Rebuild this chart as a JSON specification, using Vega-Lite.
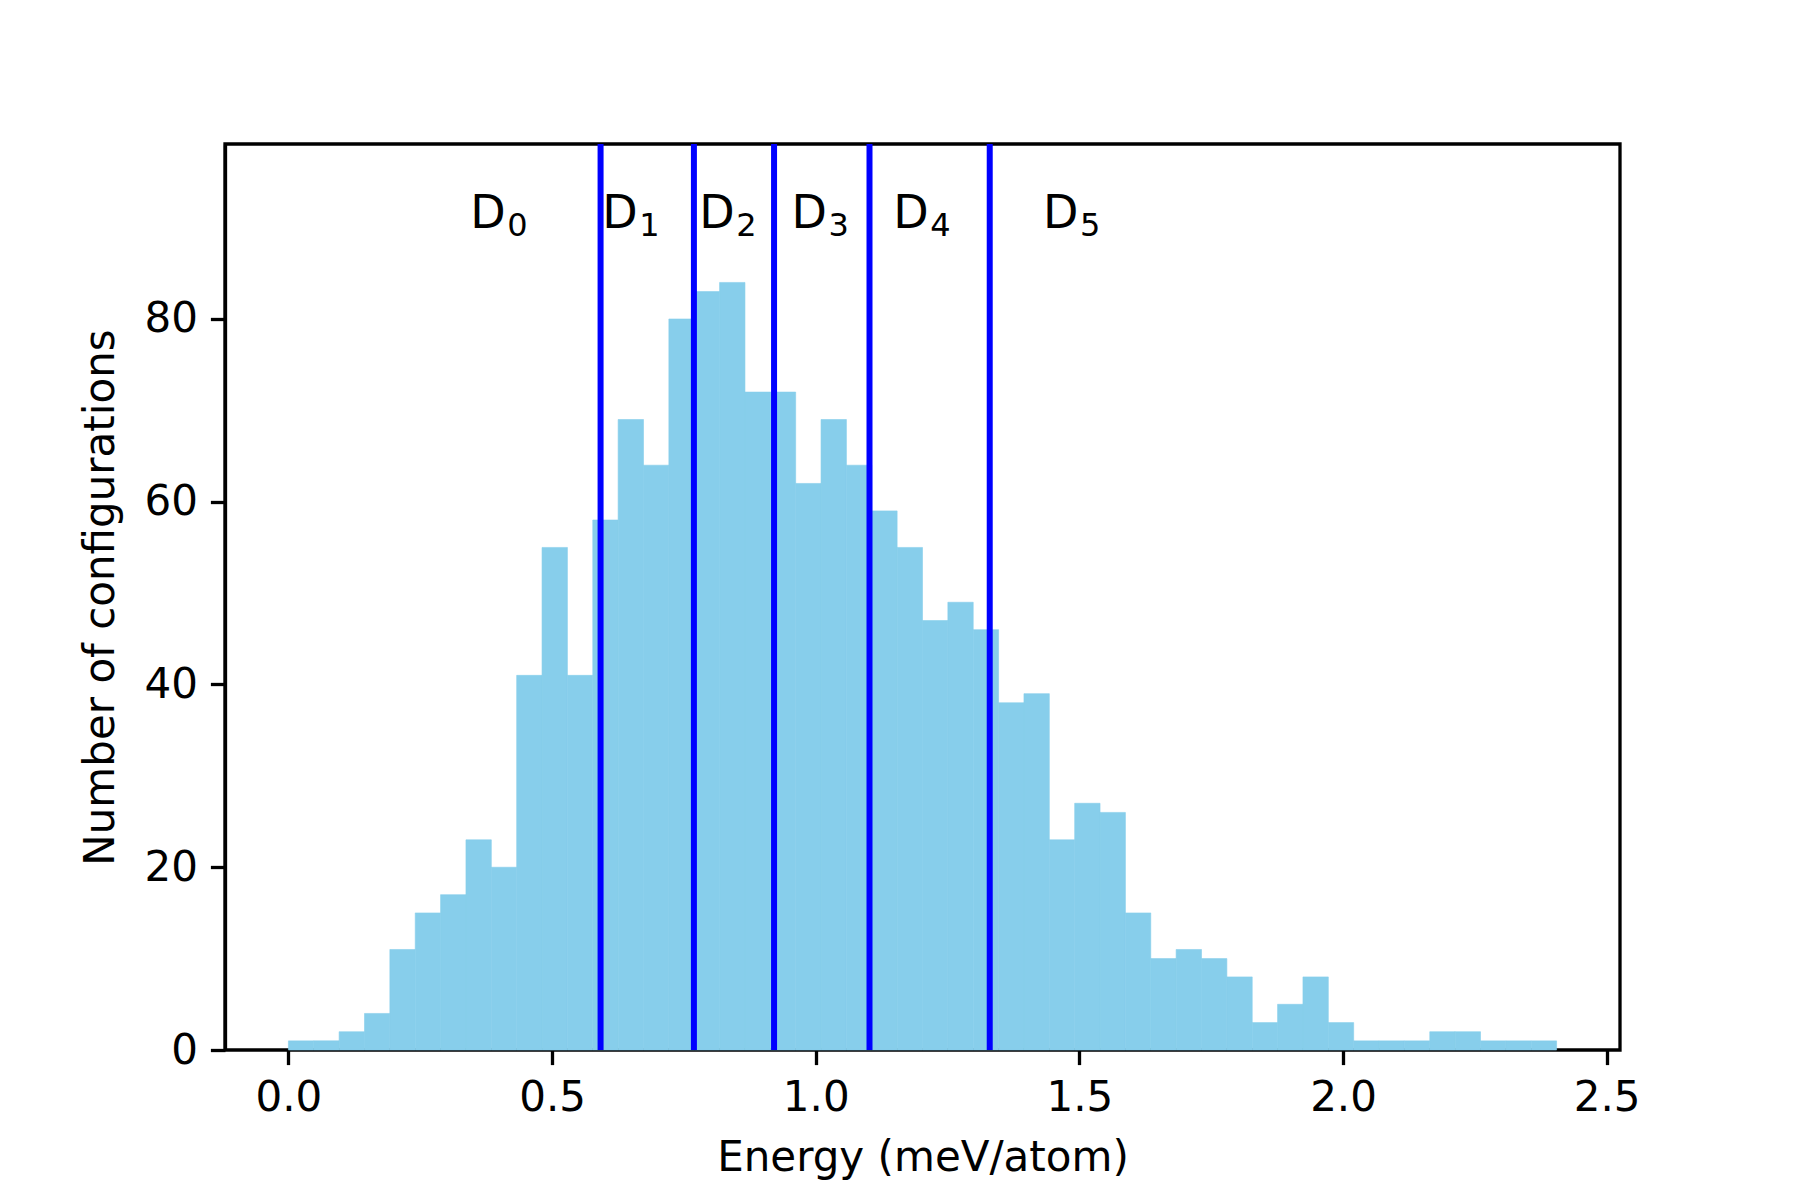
{
  "$schema": "https://vega.github.io/schema/vega-lite/v6.json",
  "width": 1395,
  "height": 906,
  "autosize": {"type": "none"},
  "padding": {"left": 225, "top": 144, "right": 180, "bottom": 150},
  "background": "white",
  "config": {
    "font": "DejaVu Sans",
    "view": {"stroke": "black", "strokeWidth": 3.3},
    "axis": {
      "grid": false,
      "domainColor": "black",
      "domainWidth": 3.3,
      "tickColor": "black",
      "tickWidth": 3.3,
      "tickSize": 14.6,
      "labelFont": "DejaVu Sans",
      "labelFontSize": 42,
      "labelColor": "black",
      "labelPadding": 13,
      "labelFlush": false,
      "labelOverlap": false,
      "titleFont": "DejaVu Sans",
      "titleFontSize": 42,
      "titleFontWeight": "normal",
      "titleColor": "black",
      "zindex": 1
    }
  },
  "datasets": {
    "bins": [
      {"lo": 0, "hi": 0.0481, "count": 1},
      {"lo": 0.0481, "hi": 0.0962, "count": 1},
      {"lo": 0.0962, "hi": 0.1443, "count": 2},
      {"lo": 0.1443, "hi": 0.1924, "count": 4},
      {"lo": 0.1924, "hi": 0.2405, "count": 11},
      {"lo": 0.2405, "hi": 0.2886, "count": 15},
      {"lo": 0.2886, "hi": 0.3367, "count": 17},
      {"lo": 0.3367, "hi": 0.3848, "count": 23},
      {"lo": 0.3848, "hi": 0.4329, "count": 20},
      {"lo": 0.4329, "hi": 0.481, "count": 41},
      {"lo": 0.481, "hi": 0.5291, "count": 55},
      {"lo": 0.5291, "hi": 0.5772, "count": 41},
      {"lo": 0.5772, "hi": 0.6253, "count": 58},
      {"lo": 0.6253, "hi": 0.6734, "count": 69},
      {"lo": 0.6734, "hi": 0.7215, "count": 64},
      {"lo": 0.7215, "hi": 0.7696, "count": 80},
      {"lo": 0.7696, "hi": 0.8177, "count": 83},
      {"lo": 0.8177, "hi": 0.8658, "count": 84},
      {"lo": 0.8658, "hi": 0.9139, "count": 72},
      {"lo": 0.9139, "hi": 0.962, "count": 72},
      {"lo": 0.962, "hi": 1.0101, "count": 62},
      {"lo": 1.0101, "hi": 1.0582, "count": 69},
      {"lo": 1.0582, "hi": 1.1063, "count": 64},
      {"lo": 1.1063, "hi": 1.1544, "count": 59},
      {"lo": 1.1544, "hi": 1.2025, "count": 55},
      {"lo": 1.2025, "hi": 1.2506, "count": 47},
      {"lo": 1.2506, "hi": 1.2987, "count": 49},
      {"lo": 1.2987, "hi": 1.3468, "count": 46},
      {"lo": 1.3468, "hi": 1.3949, "count": 38},
      {"lo": 1.3949, "hi": 1.443, "count": 39},
      {"lo": 1.443, "hi": 1.4911, "count": 23},
      {"lo": 1.4911, "hi": 1.5392, "count": 27},
      {"lo": 1.5392, "hi": 1.5873, "count": 26},
      {"lo": 1.5873, "hi": 1.6354, "count": 15},
      {"lo": 1.6354, "hi": 1.6835, "count": 10},
      {"lo": 1.6835, "hi": 1.7316, "count": 11},
      {"lo": 1.7316, "hi": 1.7797, "count": 10},
      {"lo": 1.7797, "hi": 1.8278, "count": 8},
      {"lo": 1.8278, "hi": 1.8759, "count": 3},
      {"lo": 1.8759, "hi": 1.924, "count": 5},
      {"lo": 1.924, "hi": 1.9721, "count": 8},
      {"lo": 1.9721, "hi": 2.0202, "count": 3},
      {"lo": 2.0202, "hi": 2.0683, "count": 1},
      {"lo": 2.0683, "hi": 2.1164, "count": 1},
      {"lo": 2.1164, "hi": 2.1645, "count": 1},
      {"lo": 2.1645, "hi": 2.2126, "count": 2},
      {"lo": 2.2126, "hi": 2.2607, "count": 2},
      {"lo": 2.2607, "hi": 2.3088, "count": 1},
      {"lo": 2.3088, "hi": 2.3569, "count": 1},
      {"lo": 2.3569, "hi": 2.405, "count": 1}
    ],
    "cuts": [
      {"energy": 0.592},
      {"energy": 0.769},
      {"energy": 0.921},
      {"energy": 1.102},
      {"energy": 1.33}
    ],
    "labels": [
      {"energy": 0.345, "letter": "D", "index": "0"},
      {"energy": 0.595, "letter": "D", "index": "1"},
      {"energy": 0.779, "letter": "D", "index": "2"},
      {"energy": 0.954, "letter": "D", "index": "3"},
      {"energy": 1.147, "letter": "D", "index": "4"},
      {"energy": 1.431, "letter": "D", "index": "5"}
    ]
  },
  "layer": [
    {
      "data": {"name": "bins"},
      "mark": {"type": "rect", "color": "#87CEEB", "stroke": "#87CEEB", "strokeWidth": 0.6},
      "encoding": {
        "x": {
          "field": "lo",
          "type": "quantitative",
          "scale": {"domain": [-0.12025, 2.52525], "nice": false, "zero": false},
          "axis": {"title": "Energy (meV/atom)", "values": [0, 0.5, 1, 1.5, 2, 2.5], "format": ".1f", "titlePadding": 19, "domain": false}
        },
        "x2": {"field": "hi"},
        "y": {
          "field": "count",
          "type": "quantitative",
          "scale": {"domain": [0, 99.15], "nice": false},
          "axis": {"title": "Number of configurations", "values": [0, 20, 40, 60, 80], "format": "d", "titlePadding": 21}
        },
        "y2": {"datum": 0}
      }
    },
    {
      "data": {"name": "cuts"},
      "mark": {"type": "rule", "color": "#0000ff", "strokeWidth": 6},
      "encoding": {
        "x": {"field": "energy", "type": "quantitative"}
      }
    },
    {
      "data": {"name": "labels"},
      "mark": {"type": "text", "align": "left", "baseline": "alphabetic", "fontSize": 46, "color": "black", "font": "DejaVu Sans"},
      "encoding": {
        "x": {"field": "energy", "type": "quantitative"},
        "y": {"datum": 90},
        "text": {"field": "letter"}
      }
    },
    {
      "data": {"name": "labels"},
      "mark": {"type": "text", "align": "left", "baseline": "alphabetic", "fontSize": 32, "dx": 37, "dy": 8.5, "color": "black", "font": "DejaVu Sans"},
      "encoding": {
        "x": {"field": "energy", "type": "quantitative"},
        "y": {"datum": 90},
        "text": {"field": "index"}
      }
    }
  ]
}
